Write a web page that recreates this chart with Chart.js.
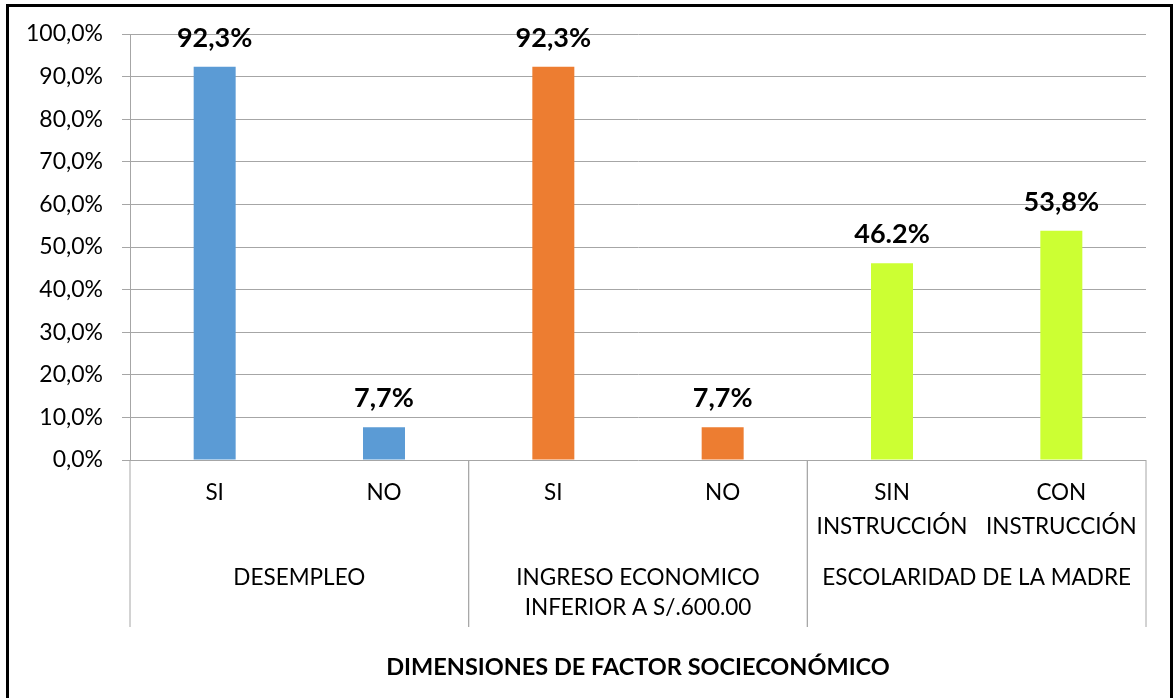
<!DOCTYPE html>
<html>
<head>
<meta charset="utf-8">
<script src="https://cdn.jsdelivr.net/npm/chart.js@4"></script>
<style>
html, body { margin: 0; padding: 0; background: #fff; }
#wrap { position: relative; width: 1175px; height: 698px; overflow: hidden; }
#frame { position: absolute; left: 6px; top: 4px; width: 1167px; height: 720px; border: 3px solid #000; box-sizing: border-box; }
canvas { position: absolute; left: 0; top: 0; }
</style>
</head>
<body>
<div id="wrap">
  <canvas id="myChart" width="1175" height="698"></canvas>
  <div id="frame"></div>
</div>
<script>
var categories = [['SI'], ['NO'], ['SI'], ['NO'], ['SIN', 'INSTRUCCIÓN'], ['CON', 'INSTRUCCIÓN']];
var groups = [['DESEMPLEO'], ['INGRESO ECONOMICO', 'INFERIOR A S/.600.00'], ['ESCOLARIDAD DE LA MADRE']];
var groupSizes = [2, 2, 2];
var values = [92.3, 7.7, 92.3, 7.7, 46.2, 53.8];
var valueLabels = ['92,3%', '7,7%', '92,3%', '7,7%', '46.2%', '53,8%'];
var barColors = ['#5B9BD5', '#5B9BD5', '#ED7D31', '#ED7D31', '#CCFF33', '#CCFF33'];
var axisTitle = 'DIMENSIONES DE FACTOR SOCIECONÓMICO';

var gridColor = '#a6a6a6';
Chart.defaults.font.family = 'Lato';
Chart.defaults.color = '#000';

// value labels above bars + group separators and group names under the axis
var extras = {
  id: 'extras',
  afterDatasetsDraw: function (chart) {
    var ctx = chart.ctx;
    var meta = chart.getDatasetMeta(0);
    ctx.save();
    ctx.font = 'bold 27px Lato';
    ctx.fillStyle = '#000';
    ctx.textAlign = 'center';
    ctx.textBaseline = 'middle';
    meta.data.forEach(function (bar, i) {
      ctx.fillText(valueLabels[i], bar.x, bar.y - 29);
    });
    ctx.restore();
  },
  afterDraw: function (chart) {
    var ctx = chart.ctx;
    var x = chart.scales.x;
    var bottom = chart.chartArea.bottom;
    var step = x.getPixelForValue(1) - x.getPixelForValue(0);
    ctx.save();
    ctx.strokeStyle = gridColor;
    ctx.lineWidth = 1;
    ctx.font = '22.5px Lato';
    ctx.fillStyle = '#000';
    ctx.textAlign = 'center';
    ctx.textBaseline = 'middle';
    var start = 0;
    groupSizes.forEach(function (n, g) {
      var left = x.getPixelForValue(start) - step / 2;
      var right = x.getPixelForValue(start + n - 1) + step / 2;
      [left, right].forEach(function (px) {
        ctx.beginPath();
        ctx.moveTo(px, bottom);
        ctx.lineTo(px, bottom + 167);
        ctx.stroke();
      });
      groups[g].forEach(function (line, k) {
        ctx.fillText(line, (left + right) / 2, bottom + 118 + k * 30);
      });
      start += n;
    });
    ctx.restore();
  }
};

var ctx = document.getElementById('myChart').getContext('2d');
var myChart = new Chart(ctx, {
  type: 'bar',
  data: {
    labels: categories,
    datasets: [
      {
        data: values,
        backgroundColor: barColors,
        categoryPercentage: 1,
        barPercentage: 0.248,
      },
    ],
  },
  options: {
    responsive: false,
    animation: false,
    layout: { padding: { left: 0, top: 34, right: 29, bottom: 0 } },
    plugins: {
      legend: { display: false },
      tooltip: { enabled: false },
    },
    scales: {
      y: {
        min: 0,
        max: 100,
        ticks: {
          stepSize: 10,
          padding: 19,
          font: { size: 23 },
          callback: function (v) {
            return v.toFixed(1).replace('.', ',') + '%';
          },
        },
        grid: { color: gridColor, tickLength: 8 },
        border: { color: gridColor },
        afterFit: function (s) { s.width = 130; },
      },
      x: {
        grid: { display: false, drawTicks: false },
        border: { display: false },
        ticks: {
          autoSkip: false,
          maxRotation: 0,
          padding: 16,
          font: { size: 22.5, lineHeight: 1.5 },
        },
        title: {
          display: true,
          text: axisTitle,
          font: { size: 23.5, weight: 'bold' },
          padding: { top: 0, bottom: 16 },
        },
        afterFit: function (s) { s.height = 238; },
      },
    },
  },
  plugins: [extras],
});
</script>
</body>
</html>
